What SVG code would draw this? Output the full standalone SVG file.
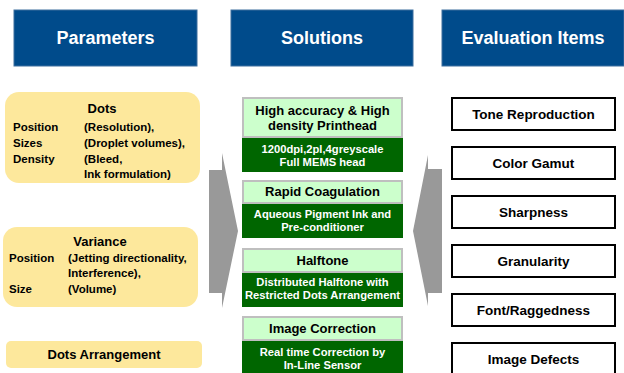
<svg xmlns="http://www.w3.org/2000/svg" width="624" height="373" viewBox="0 0 624 373">
  <style>
    text { font-family: "Liberation Sans", Arial, sans-serif; font-weight: bold; }
    .hdr { fill: #004b8b; stroke: #3c6f9e; stroke-width: 1; }
    .hdr-t { fill: #ffffff; font-size: 18px; text-anchor: middle; }
    .param { fill: #fde89c; }
    .p-t { fill: #000000; font-size: 11.5px; }
    .p-h { fill: #000000; font-size: 13px; text-anchor: middle; }
    .sol-top { fill: #ccffcc; stroke: #bfbfbf; stroke-width: 2; }
    .sol-bot { fill: #006600; }
    .sol-top-t { fill: #000000; font-size: 13px; text-anchor: middle; }
    .sol-bot-t { fill: #ffffff; font-size: 11.2px; text-anchor: middle; }
    .eval { fill: #ffffff; stroke: #000000; stroke-width: 2; }
    .eval-t { fill: #000000; font-size: 13.5px; text-anchor: middle; }
    .flow { fill: #999999; }
  </style>

  <rect width="624" height="373" fill="#ffffff"/>

  <!-- column headers -->
  <g id="hdr-parameters">
    <rect class="hdr" x="14" y="10" width="183" height="56"/>
    <text class="hdr-t" x="105.5" y="44">Parameters</text>
  </g>
  <g id="hdr-solutions">
    <rect class="hdr" x="231" y="10" width="182" height="56"/>
    <text class="hdr-t" x="322" y="44">Solutions</text>
  </g>
  <g id="hdr-evaluation">
    <rect class="hdr" x="442" y="10" width="182" height="56"/>
    <text class="hdr-t" x="533" y="44">Evaluation Items</text>
  </g>

  <!-- block arrows between the columns -->
  <g id="connectors">
    <polygon class="flow" points="209,170 222,170 222,153 238,231 222,308 222,293 209,293"/>
    <polygon class="flow" points="442,169 428,169 428,155 413,231 428,306 428,293 442,293"/>
  </g>

  <!-- parameters -->
  <g id="param-dots">
    <rect class="param" x="5" y="92" width="195" height="91" rx="14"/>
    <text class="p-h" x="102" y="113">Dots</text>
    <text class="p-t" x="13" y="131">Position</text>
    <text class="p-t" x="84" y="131">(Resolution),</text>
    <text class="p-t" x="13" y="147">Sizes</text>
    <text class="p-t" x="84" y="147">(Droplet volumes),</text>
    <text class="p-t" x="13" y="162.5">Density</text>
    <text class="p-t" x="84" y="162.5">(Bleed,</text>
    <text class="p-t" x="84" y="178">Ink formulation)</text>
  </g>
  <g id="param-variance">
    <rect class="param" x="3" y="227" width="195" height="80" rx="14"/>
    <text class="p-h" x="100" y="246">Variance</text>
    <text class="p-t" x="9" y="262">Position</text>
    <text class="p-t" x="68" y="262">(Jetting directionality,</text>
    <text class="p-t" x="68" y="277">Interference),</text>
    <text class="p-t" x="9" y="293">Size</text>
    <text class="p-t" x="68" y="293">(Volume)</text>
  </g>
  <g id="param-arrangement">
    <rect class="param" x="6" y="341" width="196" height="27" rx="5"/>
    <text class="p-h" x="104" y="359">Dots Arrangement</text>
  </g>

  <!-- solutions -->
  <g id="sol-printhead">
    <rect class="sol-top" x="243" y="98" width="159" height="39"/>
    <text class="sol-top-t" x="322.5" y="115">High accuracy &amp; High</text>
    <text class="sol-top-t" x="322.5" y="130">density Printhead</text>
    <rect class="sol-bot" x="242" y="138" width="161" height="34"/>
    <text class="sol-bot-t" x="322.5" y="153">1200dpi,2pl,4greyscale</text>
    <text class="sol-bot-t" x="322.5" y="166">Full MEMS head</text>
  </g>
  <g id="sol-coagulation">
    <rect class="sol-top" x="243" y="181" width="159" height="22"/>
    <text class="sol-top-t" x="322.5" y="196">Rapid Coagulation</text>
    <rect class="sol-bot" x="242" y="204" width="161" height="34"/>
    <text class="sol-bot-t" x="322.5" y="218">Aqueous Pigment Ink and</text>
    <text class="sol-bot-t" x="322.5" y="231">Pre-conditioner</text>
  </g>
  <g id="sol-halftone">
    <rect class="sol-top" x="243" y="249" width="159" height="23"/>
    <text class="sol-top-t" x="322.5" y="265">Halftone</text>
    <rect class="sol-bot" x="242" y="273" width="161" height="34"/>
    <text class="sol-bot-t" x="322.5" y="286">Distributed Halftone with</text>
    <text class="sol-bot-t" x="322.5" y="299">Restricted Dots Arrangement</text>
  </g>
  <g id="sol-correction">
    <rect class="sol-top" x="243" y="317" width="159" height="23"/>
    <text class="sol-top-t" x="322.5" y="333">Image Correction</text>
    <rect class="sol-bot" x="242" y="341" width="161" height="34"/>
    <text class="sol-bot-t" x="322.5" y="356">Real time Correction by</text>
    <text class="sol-bot-t" x="322.5" y="369">In-Line Sensor</text>
  </g>

  <!-- evaluation items -->
  <g id="eval-tone">
    <rect class="eval" x="452" y="98" width="163" height="32"/>
    <text class="eval-t" x="533.5" y="119">Tone Reproduction</text>
  </g>
  <g id="eval-gamut">
    <rect class="eval" x="452" y="147" width="163" height="32"/>
    <text class="eval-t" x="533.5" y="168">Color Gamut</text>
  </g>
  <g id="eval-sharpness">
    <rect class="eval" x="452" y="196" width="163" height="32"/>
    <text class="eval-t" x="533.5" y="217">Sharpness</text>
  </g>
  <g id="eval-granularity">
    <rect class="eval" x="452" y="245" width="163" height="32"/>
    <text class="eval-t" x="533.5" y="266">Granularity</text>
  </g>
  <g id="eval-font">
    <rect class="eval" x="452" y="294" width="163" height="32"/>
    <text class="eval-t" x="533.5" y="315">Font/Raggedness</text>
  </g>
  <g id="eval-defects">
    <rect class="eval" x="452" y="343" width="163" height="36"/>
    <text class="eval-t" x="533.5" y="364">Image Defects</text>
  </g>
</svg>
